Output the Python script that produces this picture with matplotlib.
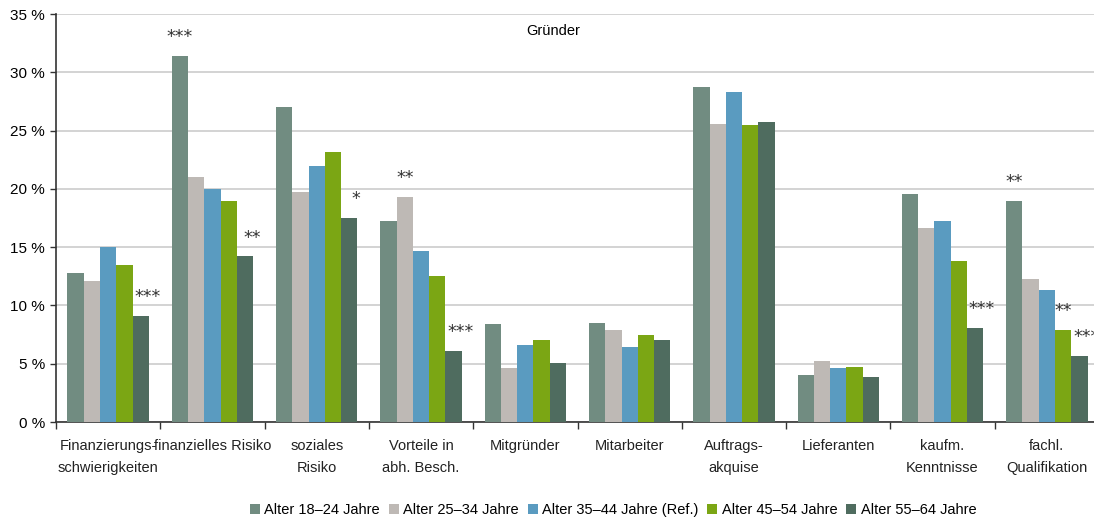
import numpy as np
import matplotlib
matplotlib.use('Agg')
import matplotlib.pyplot as plt

plt.rcParams['font.family'] = ['Liberation Sans', 'DejaVu Sans']

# Kategorien (Hemmnisse) und Altersgruppen
kategorien = ['Finanzierungs-\nschwierigkeiten', 'finanzielles Risiko', 'soziales\nRisiko',
              'Vorteile in\nabh. Besch.', 'Mitgründer', 'Mitarbeiter', 'Auftrags-\nakquise',
              'Lieferanten', 'kaufm.\nKenntnisse', 'fachl.\nQualifikation']
gruppen = ['Alter 18–24 Jahre', 'Alter 25–34 Jahre', 'Alter 35–44 Jahre (Ref.)',
           'Alter 45–54 Jahre', 'Alter 55–64 Jahre']
farben = ['#718C81', '#BEB9B5', '#5A9BC0', '#7BA614', '#4F6C5F']

alter_18_24 = [12.8, 31.4, 27.0, 17.2, 8.4, 8.5, 28.7, 4.0, 19.6, 19.0]
alter_25_34 = [12.1, 21.0, 19.7, 19.3, 4.6, 7.9, 25.6, 5.2, 16.6, 12.3]
alter_35_44 = [15.0, 20.0, 22.0, 14.7, 6.6, 6.4, 28.3, 4.6, 17.2, 11.3]
alter_45_54 = [13.5, 19.0, 23.2, 12.5, 7.0, 7.5, 25.5, 4.7, 13.8, 7.9]
alter_55_64 = [9.1, 14.2, 17.5, 6.1, 5.1, 7.0, 25.7, 3.9, 8.1, 5.7]
werte = [alter_18_24, alter_25_34, alter_35_44, alter_45_54, alter_55_64]

# Signifikanzsterne: (Kategorie, Gruppe, Text)
signifikanz = [(0, 4, '***'), (1, 0, '***'), (1, 4, '**'), (2, 4, '*'),
               (3, 1, '**'), (3, 4, '***'), (8, 4, '***'),
               (9, 0, '**'), (9, 3, '**'), (9, 4, '***')]

fig = plt.figure(figsize=(10.94, 5.21), dpi=100)
ax = fig.add_axes([56 / 1094, 99 / 521, 1043 / 1094, 408 / 521])

x = np.arange(len(kategorien))
bw = 0.156
for i, (name, vals, c) in enumerate(zip(gruppen, werte, farben)):
    ax.bar(x + (i - 2) * bw, vals, width=bw, color=c, label=name, zorder=3)

for k, g, txt in signifikanz:
    dx = 5 if g == 4 else 0
    ax.annotate(txt, (x[k] + (g - 2) * bw, werte[g][k]), xytext=(dx, 7),
                textcoords='offset points', ha='center', va='bottom',
                fontsize=12.5, color='#333333', family=['DejaVu Sans'])

ax.set_xlim(-0.5, len(kategorien) - 0.5)
ax.set_ylim(0, 35)
ax.set_yticks(range(0, 36, 5))
ax.set_yticklabels([f'{v} %' for v in range(0, 36, 5)], fontsize=11)
ax.yaxis.grid(True, color='#CCCCCC', linewidth=1.2, zorder=0)
ax.set_axisbelow(True)

# Kategorienbeschriftung unter den Gruppen, Ticks an den Grenzen
ax.set_xticks(np.arange(-0.5, len(kategorien) + 0.5, 1))
ax.set_xticklabels([])
ax.tick_params(axis='x', length=5, width=1, color='#333333')
ax.tick_params(axis='y', length=4, width=1, color='#333333', pad=4)
for xi, lab in zip(x, kategorien):
    ax.text(xi, -1.5, lab, ha='center', va='top', fontsize=10.5,
            linespacing=1.65, color='#222222')

for s in ['top', 'right']:
    ax.spines[s].set_visible(False)
for s in ['left', 'bottom']:
    ax.spines[s].set_color('#333333')
    ax.spines[s].set_linewidth(1.2)

ax.text(4.265, 34.1, 'Gründer', ha='center', va='top', fontsize=10.5)

fig.legend(loc='center', bbox_to_anchor=(613 / 1094, 1 - 510 / 521), ncol=5,
           frameon=False, fontsize=10.5, handlelength=0.7, handleheight=0.7,
           handletextpad=0.3, columnspacing=0.6)

fig.savefig('out.png', dpi=100)
